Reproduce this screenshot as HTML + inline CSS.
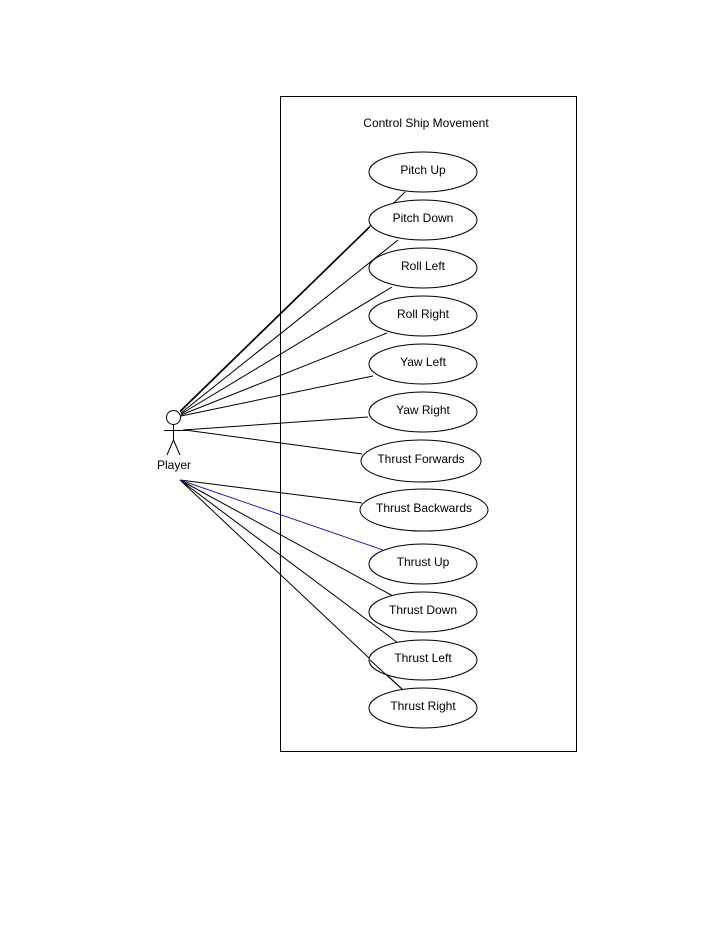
<!DOCTYPE html>
<html><head><style>body{margin:0;background:#fff}svg{display:block}text{font-family:"Liberation Sans",sans-serif;font-size:12px;fill:#000}</style></head>
<body>
<svg width="720" height="944" viewBox="0 0 720 944">
<rect x="280.5" y="96.5" width="296" height="655" fill="none" stroke="#000"/>
<text x="426" y="127" text-anchor="middle">Control Ship Movement</text>
<g stroke="#000" stroke-width="1" fill="none">
<line x1="180" y1="411" x2="405" y2="192"/>
<line x1="180" y1="412" x2="370" y2="227"/>
<line x1="181" y1="413" x2="398" y2="240"/>
<line x1="181" y1="414" x2="392" y2="287"/>
<line x1="181" y1="415" x2="387" y2="333"/>
<line x1="181" y1="416" x2="373" y2="376"/>
<line x1="183" y1="430" x2="368" y2="417"/>
<line x1="185" y1="430" x2="362" y2="454"/>
<line x1="180" y1="480" x2="362" y2="503"/>
<line x1="180" y1="480" x2="393" y2="596"/>
<line x1="180" y1="480" x2="398" y2="643"/>
<line x1="180" y1="480" x2="403" y2="690"/>
</g>
<line x1="180" y1="480" x2="383" y2="550" stroke="#2020a0"/>
<g stroke="#000" fill="#fff">
<circle cx="173.5" cy="417.5" r="7"/>
<line x1="173.5" y1="424.5" x2="173.5" y2="440"/>
<line x1="164" y1="430.5" x2="187" y2="430.5"/>
<line x1="173.5" y1="440" x2="167" y2="455"/>
<line x1="173.5" y1="440" x2="180" y2="455"/>
</g>
<text x="174" y="469" text-anchor="middle">Player</text>
<g stroke="#000" fill="#fff">
<ellipse cx="423" cy="172" rx="54" ry="20"/>
<ellipse cx="423" cy="220" rx="54" ry="20"/>
<ellipse cx="423" cy="268" rx="54" ry="20"/>
<ellipse cx="423" cy="316" rx="54" ry="20"/>
<ellipse cx="423" cy="364" rx="54" ry="20"/>
<ellipse cx="423" cy="412" rx="54" ry="20"/>
<ellipse cx="421" cy="461" rx="60" ry="21"/>
<ellipse cx="424" cy="510" rx="64" ry="21"/>
<ellipse cx="423" cy="564" rx="54" ry="20"/>
<ellipse cx="423" cy="612" rx="54" ry="20"/>
<ellipse cx="423" cy="660" rx="54" ry="20"/>
<ellipse cx="423" cy="708" rx="54" ry="20"/>
</g>
<line x1="370" y1="660" x2="403" y2="690" stroke="#000"/>
<g text-anchor="middle">
<text x="423" y="174">Pitch Up</text>
<text x="423" y="222">Pitch Down</text>
<text x="423" y="270">Roll Left</text>
<text x="423" y="318">Roll Right</text>
<text x="423" y="366">Yaw Left</text>
<text x="423" y="414">Yaw Right</text>
<text x="421" y="463">Thrust Forwards</text>
<text x="424" y="512">Thrust Backwards</text>
<text x="423" y="566">Thrust Up</text>
<text x="423" y="614">Thrust Down</text>
<text x="423" y="662">Thrust Left</text>
<text x="423" y="710">Thrust Right</text>
</g>
</svg>
</body></html>
